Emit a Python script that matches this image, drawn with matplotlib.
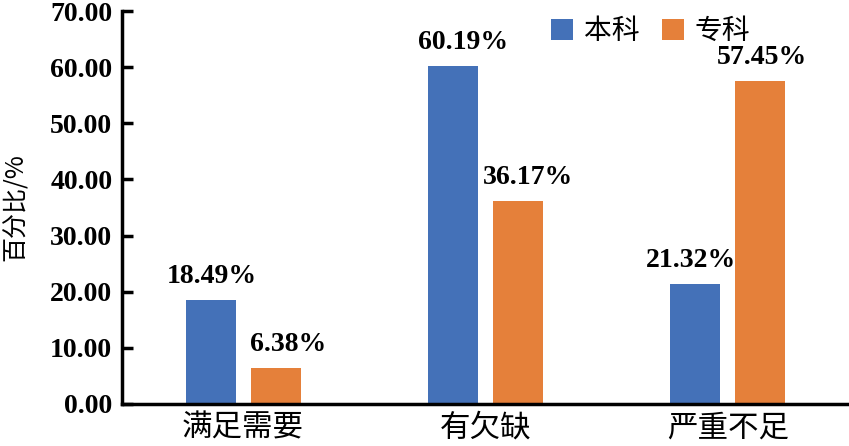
import numpy as np
import matplotlib
matplotlib.use("Agg")
import matplotlib.pyplot as plt

plt.rcParams['font.family'] = ['Liberation Serif', 'Noto Sans CJK SC', 'DejaVu Sans']

categories = ["满足需要", "有欠缺", "严重不足"]
series_names = ["本科", "专科"]
benke = [18.49, 60.19, 21.32]
zhuanke = [6.38, 36.17, 57.45]
colors = ["#4471B8", "#E5803A"]
yticks = [0, 10, 20, 30, 40, 50, 60, 70]
# small horizontal nudges of the value labels (points), as in the original
nudge_benke = [1, 7, -3]
nudge_zhuanke = [9, 7, 1]

fig = plt.figure(figsize=(8.49, 4.46), dpi=100)
ax = fig.add_axes([0.1437, 0.0942, 0.8563, 0.8811])

x = np.arange(len(categories))
w = 0.206
off = 0.134
b1 = ax.bar(x - off, benke, w, color=colors[0], label=series_names[0])
b2 = ax.bar(x + off, zhuanke, w, color=colors[1], label=series_names[1])

for bars, vals, nud in [(b1, benke, nudge_benke), (b2, zhuanke, nudge_zhuanke)]:
    for r, v, n in zip(bars, vals, nud):
        ax.annotate("%.2f%%" % v, (r.get_x() + r.get_width() / 2, v),
                    xytext=(n, 8), textcoords="offset points",
                    ha="center", va="bottom", fontsize=20, fontweight="bold",
                    family="Liberation Serif")

ax.set_xlim(-0.5, 2.5)
ax.set_ylim(0, 70)
ax.set_yticks(yticks)
ax.set_yticklabels(["%.2f" % t for t in yticks], fontsize=20, fontweight="bold",
                   family="Liberation Serif")
ax.set_xticks(x)
ax.set_xticklabels(categories, fontsize=22, family="Noto Sans CJK SC")
ax.tick_params(axis="y", direction="in", length=8, width=2.5, pad=7)
ax.tick_params(axis="x", length=0, pad=6)

for s in ["top", "right"]:
    ax.spines[s].set_visible(False)
ax.spines["left"].set_linewidth(2.5)
ax.spines["bottom"].set_linewidth(2.5)

ax.set_ylabel("百分比/%", fontsize=18, family=["Noto Sans CJK SC", "Liberation Serif"], labelpad=15)

leg = ax.legend(loc="upper center", bbox_to_anchor=(0.727, 1.05), ncol=2, frameon=False,
                prop={"family": "Noto Sans CJK SC", "size": 20},
                handlelength=0.8, handleheight=0.8, handletextpad=0.4, columnspacing=0.8)

fig.savefig("out.png", dpi=100)
